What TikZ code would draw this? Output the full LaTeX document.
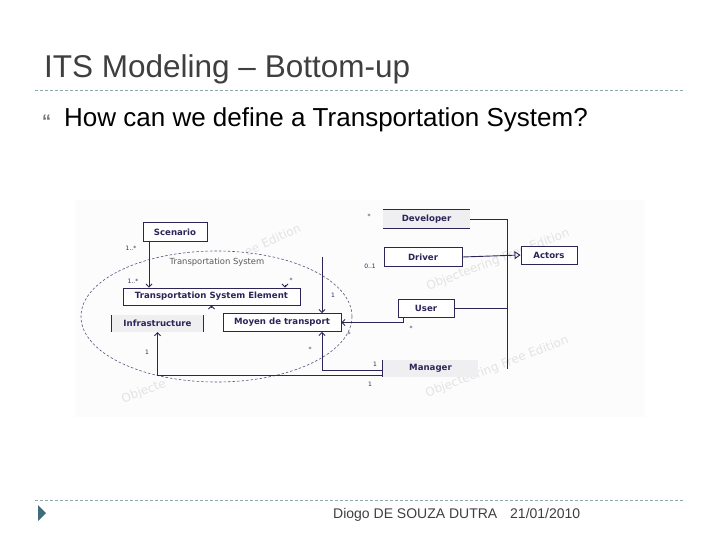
\documentclass[tikz,border=0pt]{standalone}
\usepackage{fontspec}
\setmainfont{Liberation Sans}
\newfontfamily\umlfont{DejaVu Sans}
\usetikzlibrary{arrows.meta,positioning,calc}
\definecolor{titulo}{HTML}{3F3F3F}
\definecolor{regla}{HTML}{8FA6AB}
\definecolor{flecha}{HTML}{3E6C78}
\definecolor{uml}{HTML}{2E2458}
\definecolor{fondo}{HTML}{FCFCFD}
\definecolor{gris}{HTML}{EFEFF2}
\tikzset{
  clase/.style={draw=uml,line width=0.9pt,fill=white,text=uml,inner sep=0pt,
    font=\umlfont\bfseries\fontsize{8.6}{10}\selectfont},
  media/.style={fill=gris,text=uml,inner sep=0pt,
    font=\umlfont\bfseries\fontsize{8.6}{10}\selectfont},
  borde/.style={draw=uml,line width=0.9pt},
  nav/.style={draw=uml,line width=0.9pt,-{Straight Barb[length=3pt,width=6pt]}},
  gen/.style={draw=uml,line width=0.9pt,-{Triangle[open,length=6pt,width=8pt]}},
  mult/.style={text=uml,font=\umlfont\fontsize{6}{7}\selectfont,inner sep=0pt},
  marca/.style={text=gray!22,font=\umlfont\fontsize{12}{14}\selectfont,rotate=21,inner sep=0pt},
  linea/.style={draw=regla,line width=0.8pt,dash pattern=on 3pt off 2pt}
}
\begin{document}
\begin{tikzpicture}[x=1pt,y=-1pt]
\useasboundingbox (0,0) rectangle (720,540);
% cabecera
\node[anchor=base west,inner sep=0pt,text=titulo,font=\fontsize{31.5}{36}\selectfont] (titulo) at (44,78) {ITS Modeling – Bottom-up};
\draw[linea] (35,90) -- (685,90);
\node[anchor=base west,inner sep=0pt,text=regla!70!black,font=\bfseries\fontsize{18}{20}\selectfont] (vineta) at (42,128) {“};
\node[anchor=base west,inner sep=0pt,font=\fontsize{26}{30}\selectfont] (pregunta) at (64,127) {How can we define a Transportation System?};
% diagrama
\fill[fondo] (75,200) rectangle (645,417);
\node[marca] (wm1) at (498,260) {Objecteering Free Edition};
\node[marca] (wm2) at (497,367) {Objecteering Free Edition};
\node[marca,anchor=east,rotate=4] (wm3) at (300,227) {ee Edition};
\node[marca,anchor=west] (wm4) at (122,400) {Objecte};
\draw[uml!80,line width=0.6pt,dash pattern=on 2.5pt off 2pt] (216.5,316.5) ellipse [x radius=135.5,y radius=65.5];
\node[text=gray!70!black,inner sep=0pt,font=\umlfont\fontsize{8.4}{10}\selectfont] (paquete) at (217,262) {Transportation System};
\node[clase,minimum width=64pt,minimum height=18.5pt] (scen) at (175,232) {Scenario};
\node[media,minimum width=87pt,minimum height=18pt] (dev) at (426.5,219) {Developer};
\node[clase,minimum width=78pt,minimum height=18.5pt] (drv) at (423,257) {Driver};
\node[clase,minimum width=56pt,minimum height=18pt] (act) at (549,255) {Actors};
\node[clase,minimum width=56pt,minimum height=18pt] (usr) at (426,308) {User};
\node[clase,minimum width=177pt,minimum height=17pt] (tse) at (211.5,296.5) {Transportation System Element};
\node[media,minimum width=91pt,minimum height=17pt] (infra) at (157.5,323.5) {Infrastructure};
\node[clase,minimum width=118pt,minimum height=18pt] (moyen) at (282,322.5) {Moyen de transport};
\node[media,minimum width=95pt,minimum height=17pt] (mgr) at (430.5,368.5) {Manager};
\draw[borde] (dev.north west) -- (dev.north east) (dev.south west) -- (dev.south east);
\draw[borde] (infra.north west) -- (infra.south west) (infra.north east) -- (infra.south east);
\draw[borde] (mgr.north west) -- (mgr.south west);
% asociaciones
\coordinate (asoc) at (322,257);
\coordinate (bus) at (507,368.5);
\draw[nav] ([xshift=-26pt]scen.south) -- ([xshift=-62.5pt]tse.north);
\draw[nav] (asoc) -- (asoc |- moyen.north);
\draw[nav] ([xshift=-23pt]usr.south) |- (moyen.east);
\draw[nav] ([yshift=-6.5pt]mgr.west) -| (infra.south);
\draw[nav] ([yshift=-2pt]mgr.west) -| ([xshift=40pt]moyen.south);
\draw[nav] ([xshift=73.5pt,yshift=3pt]tse.north) -- ([xshift=73.5pt]tse.north);
\draw[nav] ([yshift=-3pt]tse.south) -- (tse.south);
\draw[borde] (dev.east) -| (bus);
\draw[borde] (usr.east) -- (usr.east -| bus);
\draw[gen] (drv.east) -- (act.west);
\node[mult] (m1) at (131,248) {1..*};
\node[mult] (m2) at (133,281) {1..*};
\node[mult] (m3) at (291,280) {*};
\node[mult] (m4) at (333,295) {1};
\node[mult] (m5) at (370,266) {0..1};
\node[mult] (m6) at (369,216) {*};
\node[mult] (m7) at (411,328) {*};
\node[mult] (m8) at (349,334) {*};
\node[mult] (m9) at (310,349) {*};
\node[mult] (m10) at (375,364) {1};
\node[mult] (m11) at (370,384) {1};
\node[mult] (m12) at (147,352) {1};
% pie
\draw[linea] (35,500) -- (685,500);
\fill[flecha] (38,505) -- (46,513) -- (38,521) -- cycle;
\node[anchor=base west,inner sep=0pt,text=titulo,font=\fontsize{14}{16}\selectfont] (autor) at (333,518) {Diogo DE SOUZA DUTRA};
\node[anchor=base west,inner sep=0pt,text=titulo,font=\fontsize{14}{16}\selectfont] (fecha) at (510,518) {21/01/2010};
\end{tikzpicture}
\end{document}
